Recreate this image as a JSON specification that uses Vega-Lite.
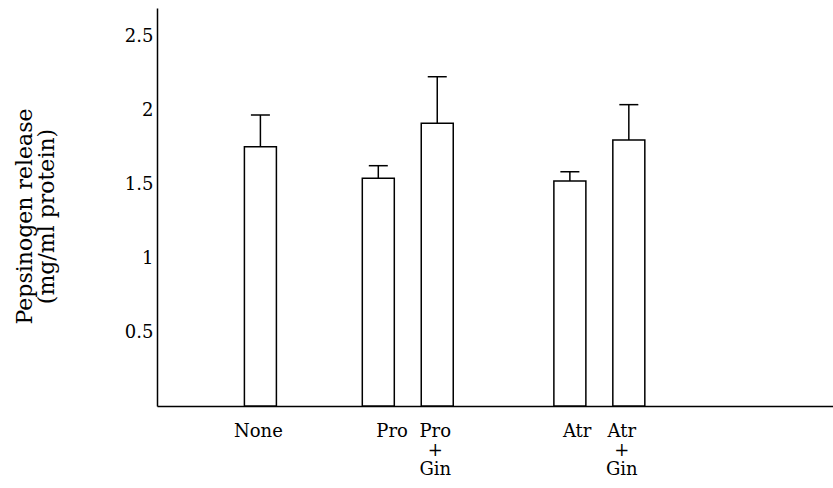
{
  "$schema": "https://vega.github.io/schema/vega-lite/v6.json",
  "autosize": "none",
  "width": 676,
  "height": 398,
  "padding": {"left": 157, "top": 8, "right": 0, "bottom": 82},
  "background": "white",
  "config": {
    "view": {"stroke": null},
    "font": "DejaVu Serif",
    "axis": {"labelFont": "DejaVu Serif", "titleFont": "DejaVu Serif", "labelColor": "black", "titleColor": "black", "domainColor": "black", "domainWidth": 1.5, "grid": false, "ticks": false, "tickSize": 0}
  },
  "data": {
    "values": [
      {"treatment": "None", "mean": 1.754, "upper": 1.969},
      {"treatment": "Pro", "mean": 1.541, "upper": 1.626},
      {"treatment": "Pro+Gin", "mean": 1.913, "upper": 2.228},
      {"treatment": "Atr", "mean": 1.522, "upper": 1.585},
      {"treatment": "Atr+Gin", "mean": 1.80, "upper": 2.039}
    ]
  },
  "layer": [
    {
      "mark": {"type": "bar", "fill": "white", "stroke": "black", "strokeWidth": 1.5, "size": 32},
      "encoding": {
        "x": {
          "field": "treatment",
          "type": "nominal",
          "scale": {
            "domain": ["_a", "_b", "_c", "_d", "_e", "_f", "None", "_1", "_2", "_3", "_4", "_5", "_6", "_7", "Pro", "_9", "_10", "_11", "Pro+Gin", "_13", "_14", "_15", "_16", "_17", "_18", "_19", "_20", "Atr", "_22", "_23", "_24", "Atr+Gin", "_z1", "_z2", "_z3", "_z4", "_z5", "_z6", "_z7", "_z8", "_z9", "_z10", "_z11", "_z12", "_z13"],
            "paddingInner": 0,
            "paddingOuter": 0.4355,
            "align": 0.593
          },
          "axis": {
            "title": null,
            "labelAngle": 0,
            "labelFontSize": 18,
            "labelPadding": 16,
            "labelBaseline": "top",
            "labelLineHeight": 19,
            "labelOverlap": false,
            "labelBound": false,
            "labelFlush": false,
            "labelExpr": "datum.value == 'Pro+Gin' ? ['Pro', '+', 'Gin'] : datum.value == 'Atr+Gin' ? ['Atr', '+', 'Gin'] : test(/^_/, datum.value) ? '' : datum.value",
            "labelAlign": {"condition": {"test": "datum.value == 'Pro' || datum.value == 'Atr'", "value": "left"}, "value": "center"},
            "labelOffset": {"condition": {"test": "datum.value == 'Atr' || datum.value == 'Atr+Gin'", "value": -7}, "value": -2}
          }
        },
        "y": {
          "field": "mean",
          "type": "quantitative",
          "scale": {"domain": [0, 2.693], "nice": false, "zero": true},
          "axis": {
            "title": ["Pepsinogen release", "(mg/ml protein)"],
            "titleFontSize": 22,
            "titleFontWeight": "normal",
            "titleLineHeight": 22,
            "titleX": -121,
            "titleY": 208,
            "values": [0.5, 1, 1.5, 2, 2.5],
            "labelExpr": "datum.value + ''",
            "labelFontSize": 18,
            "labelPadding": 4
          }
        }
      }
    },
    {
      "mark": {"type": "rule", "color": "black", "strokeWidth": 1.5},
      "encoding": {
        "x": {"field": "treatment", "type": "nominal"},
        "y": {"field": "mean", "type": "quantitative"},
        "y2": {"field": "upper"}
      }
    },
    {
      "mark": {"type": "tick", "color": "black", "size": 19, "thickness": 1.5, "opacity": 1},
      "encoding": {
        "x": {"field": "treatment", "type": "nominal"},
        "y": {"field": "upper", "type": "quantitative"}
      }
    }
  ]
}
